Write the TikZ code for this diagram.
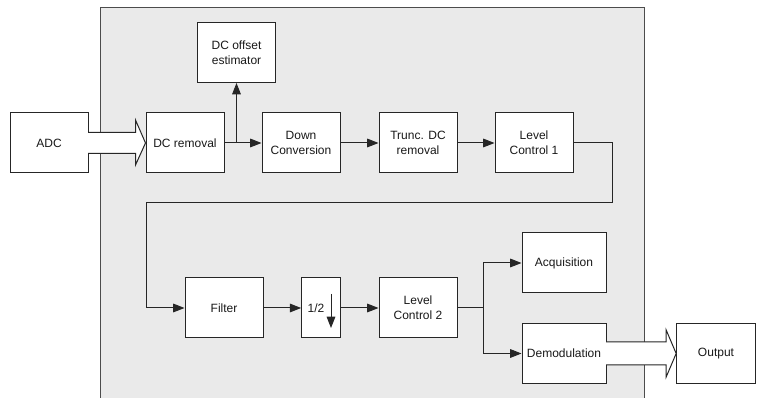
\documentclass[tikz,border=0pt]{standalone}
\usepackage{fontspec}
\setmainfont{Liberation Sans}
\usetikzlibrary{arrows.meta,calc}
\definecolor{bggray}{HTML}{EAEAEA}
\definecolor{linec}{HTML}{262626}
\begin{document}
\begin{tikzpicture}[x=0.75pt,y=-0.75pt,
  box/.style={draw=linec,fill=white,line width=0.75pt,minimum width=58.5pt,minimum height=45pt,
    inner sep=1pt,align=center,font=\fontsize{9}{11.25}\selectfont,text=black!90},
  arr/.style={draw=linec,line width=0.75pt,-{Triangle[length=8.5pt,width=6.5pt]}},
  fat/.style={draw=linec,fill=white,line width=0.75pt}]
\useasboundingbox (0,0) rectangle (757,398);
% frame
\fill[bggray] (100,7) rectangle (645,400);
\draw[draw=black!70,line width=1.1pt] (100.5,400) -- (100.5,7.5) -- (644.5,7.5) -- (644.5,400);
% boxes
\node[box] (adc) at (49,143) {ADC};
\node[box] (dcr) at (185,143) {DC removal};
\node[box] (dco) at (236.5,52.5) {DC offset\\estimator};
\node[box] (downc) at (301,143) {Down\\Conversion};
\node[box] (trunc) at (418,143) {Trunc. DC\\removal};
\node[box] (lc1) at (534,143) {Level\\Control 1};
\node[box] (filter) at (224,308) {Filter};
\node[box,minimum width=29pt] (half) at (321,308) {};
\node[font=\fontsize{9}{11.25}\selectfont,text=black!90,inner sep=0pt] (halftxt) at (316,308) {1/2};
\coordinate (ha) at (331,294);
\coordinate (hb) at (331,328);
\draw[arr] (ha) -- (hb);
\node[box] (lc2) at (418,308) {Level\\Control 2};
\node[box,minimum width=63pt] (acq) at (564,263) {Acquisition};
\node[box,minimum width=63pt] (demod) at (564,353.5) {Demodulation};
\node[box,minimum width=59pt] (out) at (716,353.5) {Output};
% fat arrows
\path[fat] ($(adc.east)+(-0.4,-10.5)$) -- ($(dcr.west)+(-10,-10.5)$) -- ($(dcr.west)+(-10,-23)$)
  -- (dcr.west) -- ($(dcr.west)+(-10,22)$) -- ($(dcr.west)+(-10,10.5)$) -- ($(adc.east)+(-0.4,10.5)$);
\path[fat] ($(demod.east)+(-0.4,-11.5)$) -- ($(out.west)+(-10,-11.5)$) -- ($(out.west)+(-10,-23.5)$)
  -- (out.west) -- ($(out.west)+(-10,23.5)$) -- ($(out.west)+(-10,11.5)$) -- ($(demod.east)+(-0.4,11.5)$);
% connectors
\coordinate (d) at (236.5,143);
\draw[arr] (dcr.east) -- (downc.west);
\draw[arr] (d) -- (dco.south);
\draw[arr] (downc.east) -- (trunc.west);
\draw[arr] (trunc.east) -- (lc1.west);
\coordinate (c1) at (612,203);
\coordinate (c2) at (146,203);
\draw[arr] (lc1.east) -| (c1) -- (c2) |- (filter.west);
\draw[arr] (filter.east) -- (half.west);
\draw[arr] (half.east) -- (lc2.west);
\coordinate (b) at (483,308);
\draw[arr] (lc2.east) -- (b) |- (acq.west);
\draw[arr] (b) |- (demod.west);
\end{tikzpicture}
\end{document}
